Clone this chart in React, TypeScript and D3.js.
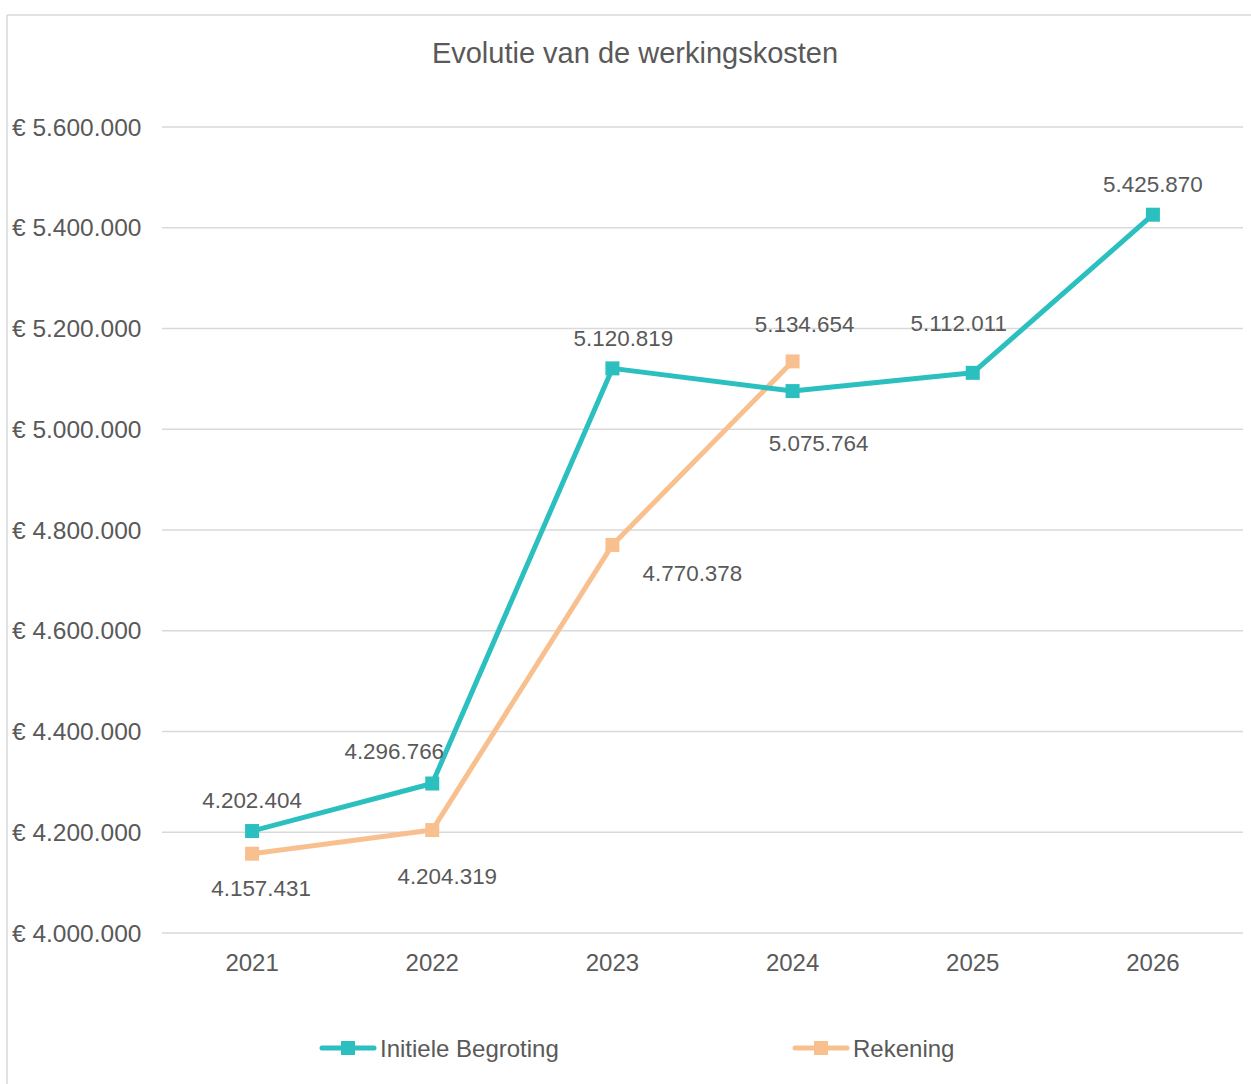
import * as d3 from "d3";

const years = ["2021", "2022", "2023", "2024", "2025", "2026"];
const initieleBegroting = [4202404, 4296766, 5120819, 5075764, 5112011, 5425870];
const rekening = [4157431, 4204319, 4770378, 5134654];
const yTicks = [4000000, 4200000, 4400000, 4600000, 4800000, 5000000, 5200000, 5400000, 5600000];

// label offsets (dx, dy) relative to each point, as in the original layout
const initOffsets = [[0, -31], [-38, -33], [11, -30], [26, 52], [-14, -50], [0, -31]];
const rekOffsets = [[9, 34], [15, 46], [80, 28], [12, -37]];

const W = 1251;
const H = 1084;
const left = 162;
const right = 1243;
const top = 127;
const bottom = 933;
const TEAL = "#2bbfbf";
const ORANGE = "#f9c08f";
const TEXT = "#595959";
const FONT = "'Liberation Sans', Arial, sans-serif";

const fmt = (v: number) => d3.format(",")(v).replace(/,/g, ".");

export default function App() {
  const x = d3.scaleBand<string>().domain(years).range([left, right]);
  const y = d3.scaleLinear().domain([4000000, 5600000]).range([bottom, top]);
  const cx = (yr: string) => (x(yr) ?? 0) + x.bandwidth() / 2;
  const line = d3
    .line<number>()
    .x((_, i) => cx(years[i]))
    .y((d) => y(d));

  const series = [
    { name: "Initiele Begroting", values: initieleBegroting, color: TEAL, offsets: initOffsets },
    { name: "Rekening", values: rekening, color: ORANGE, offsets: rekOffsets },
  ];
  // draw Rekening first so teal sits on top
  const order = [series[1], series[0]];

  return (
    <svg
      width={W}
      height={H}
      style={{ position: "absolute", left: 0, top: 0, fontFamily: FONT }}
    >
      <rect x={0} y={0} width={W} height={H} fill="#fff" />
      <line x1={7} x2={7} y1={15} y2={H} stroke="#d9d9d9" strokeWidth={1.5} />
      <line x1={7} x2={W} y1={15} y2={15} stroke="#d9d9d9" strokeWidth={1.5} />
      <text x={635} y={63} textAnchor="middle" fontSize={29} fill={TEXT}>
        Evolutie van de werkingskosten
      </text>
      {yTicks.map((t) => (
        <g key={t}>
          <line x1={left} x2={right} y1={y(t)} y2={y(t)} stroke="#d9d9d9" strokeWidth={1.5} />
          <text x={12} y={y(t) + 8.5} fontSize={24.5} fill={TEXT}>
            € {fmt(t)}
          </text>
        </g>
      ))}
      {years.map((yr) => (
        <text key={yr} x={cx(yr)} y={971} textAnchor="middle" fontSize={24} fill={TEXT}>
          {yr}
        </text>
      ))}
      {order.map((s) => (
        <g key={s.name}>
          <path
            d={line(s.values) ?? ""}
            fill="none"
            stroke={s.color}
            strokeWidth={5}
            strokeLinejoin="round"
            strokeLinecap="round"
          />
          {s.values.map((v, i) => (
            <rect
              key={i}
              x={cx(years[i]) - 7}
              y={y(v) - 7}
              width={14}
              height={14}
              fill={s.color}
            />
          ))}
        </g>
      ))}
      {series.map((s) =>
        s.values.map((v, i) => (
          <text
            key={s.name + i}
            x={cx(years[i]) + s.offsets[i][0]}
            y={y(v) + s.offsets[i][1] + 8}
            textAnchor="middle"
            fontSize={22.4}
            fill={TEXT}
          >
            {fmt(v)}
          </text>
        ))
      )}
      {series.map((s, i) => {
        const lx = i === 0 ? 322 : 795;
        return (
          <g key={s.name}>
            <line x1={lx} x2={lx + 52} y1={1048} y2={1048} stroke={s.color} strokeWidth={5} strokeLinecap="round" />
            <rect x={lx + 19} y={1041} width={14} height={14} fill={s.color} />
            <text x={lx + 58} y={1057} fontSize={24} fill={TEXT}>
              {s.name}
            </text>
          </g>
        );
      })}
    </svg>
  );
}
